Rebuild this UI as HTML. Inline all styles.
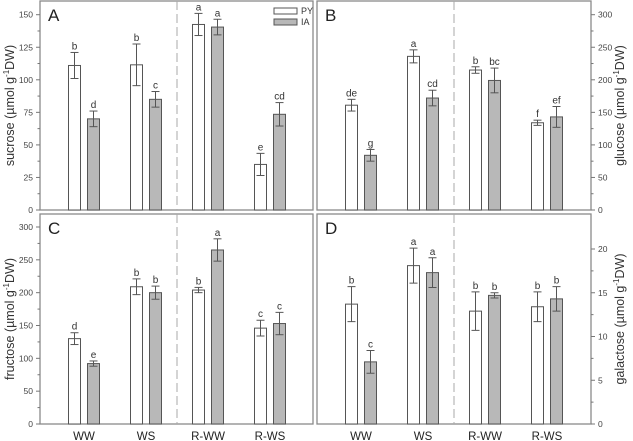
<!DOCTYPE html>
<html><head><meta charset="utf-8"><style>
body{margin:0;background:#fff;}
svg{display:block;font-family:"Liberation Sans",sans-serif;}
</style></head><body>
<svg id="chart" width="633" height="441" viewBox="0 0 633 441"></svg>
<script>
const categories = ["WW","WS","R-WW","R-WS"];
const sucrosePY = [111,111.5,142.5,35];
const sucrosePYErr = [10,16,8.5,8.5];
const sucroseIA = [70,85,140.5,73.5];
const sucroseIAErr = [6,6,6,9];
const sucroseLetters = [["b","d"],["b","c"],["a","a"],["e","cd"]];
const glucosePY = [161,236,215,134];
const glucosePYErr = [9,10,5,4];
const glucoseIA = [84,172,199,143];
const glucoseIAErr = [9,12,19,16];
const glucoseLetters = [["de","g"],["a","cd"],["b","bc"],["f","ef"]];
const fructosePY = [130,209,204,146];
const fructosePYErr = [9,12,4,12];
const fructoseIA = [92,200,265,153];
const fructoseIAErr = [4,10,17,17];
const fructoseLetters = [["d","e"],["b","b"],["b","a"],["c","c"]];
const galactosePY = [13.7,18.1,12.9,13.4];
const galactosePYErr = [2,2,2.2,1.7];
const galactoseIA = [7.1,17.3,14.7,14.3];
const galactoseIAErr = [1.3,1.7,0.3,1.4];
const galactoseLetters = [["b","c"],["a","a"],["b","b"],["b","b"]];
const sucroseTicks = [0,25,50,75,100,125,150];
const glucoseTicks = [0,50,100,150,200,250,300];
const fructoseTicks = [0,50,100,150,200,250,300];
const galactoseTicks = [0,5,10,15,20];

const svg = document.getElementById('chart');
const NS = "http://www.w3.org/2000/svg";
function mk(tag, attrs, parent, text){
  const e = document.createElementNS(NS, tag);
  for (const k in attrs) e.setAttribute(k, attrs[k]);
  if (text !== undefined) e.textContent = text;
  (parent||svg).appendChild(e);
  return e;
}

function panel(o){
  const g = mk('g',{});
  
  
  const y = v => o.y0 - (v/o.vmax)*(o.y0 - o.yMaxPix);
  const fr = mk('rect',{x:o.x0,y:o.top,width:o.w,height:o.y0-o.top,fill:'none',stroke:'#8a8a8a','stroke-width':1.3},g);
  
  
  const div = mk('line',{x1:o.x0+137,x2:o.x0+137,y1:o.top,y2:o.y0,stroke:'#aaa','stroke-dasharray':'9,4','stroke-width':1},g);
  
  
  const lab = mk('text',{x:o.x0+8,y:o.top+20,'font-size':17,fill:'#222'},g,o.id);
  
  
  const axX = o.right ? o.x0+o.w : o.x0;
  const dir = o.right ? 1 : -1;
  o.ticks.forEach((t,i)=>{
    const yy = y(t);
    mk('line',{x1:axX,x2:axX+dir*4,y1:yy,y2:yy,stroke:'#777'},g);
    const tl = mk('text',{x:axX+dir*7,y:yy+3,'font-size':8.5,fill:'#444','text-anchor':o.right?'start':'end'},g,t);
    
    
    if (i < o.ticks.length-1 || o.minorTop) {
      const mid = (t + (o.ticks[i+1]!==undefined?o.ticks[i+1]:t+2*(o.ticks[1]-o.ticks[0])))/2;
      if (mid < o.vmax) mk('line',{x1:axX,x2:axX+dir*2.5,y1:y(mid),y2:y(mid),stroke:'#777'},g);
    }
  });
  const tx = o.right ? 624 : 14;
  const cy = (o.top+o.y0)/2;
  const title = mk('text',{x:tx,y:cy,'font-size':12.5,fill:'#333','text-anchor':'middle',transform:`rotate(-90 ${tx} ${cy})`},g);
  
  
  mk('tspan',{},title,o.title+' (µmol g');
  mk('tspan',{dy:-5,'font-size':8},title,'-1');
  mk('tspan',{dy:5},title,'DW)');
  categories.forEach((c,i)=>{
    const cx = o.x0 + 44 + 62*i;
    [[o.py,o.pyE,'#fff',-15.5,0],[o.ia,o.iaE,'#b8b8b8',3.5,1]].forEach(s=>{
      const v = s[0][i], e = s[1][i];
      const bx = cx + s[3];
      const b = mk('rect',{x:bx,y:y(v),width:12,height:o.y0-y(v),fill:s[2],stroke:'#555','stroke-width':1},g);
      
      
      const ex = bx+6;
      mk('line',{x1:ex,x2:ex,y1:y(v+e),y2:y(v-e),stroke:'#555'},g);
      mk('line',{x1:ex-4,x2:ex+4,y1:y(v+e),y2:y(v+e),stroke:'#555'},g);
      mk('line',{x1:ex-4,x2:ex+4,y1:y(v-e),y2:y(v-e),stroke:'#555'},g);
      const lt = mk('text',{x:ex,y:y(v+e)-3,'font-size':10,fill:'#333','text-anchor':'middle'},g,o.letters[i][s[4]]);
      
      
    });
    if (o.xlabels){
      const xl = mk('text',{x:cx,y:440,'font-size':11.5,fill:'#222','text-anchor':'middle'},g,c);
      
      
    }
  });
  return g;
}

panel({id:'A',x0:40,w:273,top:1,y0:210,yMaxPix:14.7,vmax:150,ticks:sucroseTicks,right:false,title:'sucrose',
  py:sucrosePY,pyE:sucrosePYErr,ia:sucroseIA,iaE:sucroseIAErr,letters:sucroseLetters});
panel({id:'B',x0:317,w:274,top:1,y0:210,yMaxPix:14.7,vmax:300,ticks:glucoseTicks,right:true,minorTop:true,title:'glucose',
  py:glucosePY,pyE:glucosePYErr,ia:glucoseIA,iaE:glucoseIAErr,letters:glucoseLetters});
panel({id:'C',x0:40,w:273,top:214,y0:424,yMaxPix:227,vmax:300,ticks:fructoseTicks,right:false,title:'fructose',xlabels:true,
  py:fructosePY,pyE:fructosePYErr,ia:fructoseIA,iaE:fructoseIAErr,letters:fructoseLetters});
panel({id:'D',x0:317,w:274,top:214,y0:424,yMaxPix:249,vmax:20,ticks:galactoseTicks,right:true,minorTop:true,title:'galactose',xlabels:true,
  py:galactosePY,pyE:galactosePYErr,ia:galactoseIA,iaE:galactoseIAErr,letters:galactoseLetters});

const lg = mk('g',{});


const l1 = mk('rect',{x:274,y:8,width:23,height:6,fill:'#fff',stroke:'#555'},lg);


mk('text',{x:301,y:14,'font-size':9,fill:'#333'},lg,'PY');
const l2 = mk('rect',{x:274,y:19,width:23,height:6,fill:'#b8b8b8',stroke:'#555'},lg);


mk('text',{x:301,y:25,'font-size':9,fill:'#333'},lg,'IA');
</script>
</body></html>
